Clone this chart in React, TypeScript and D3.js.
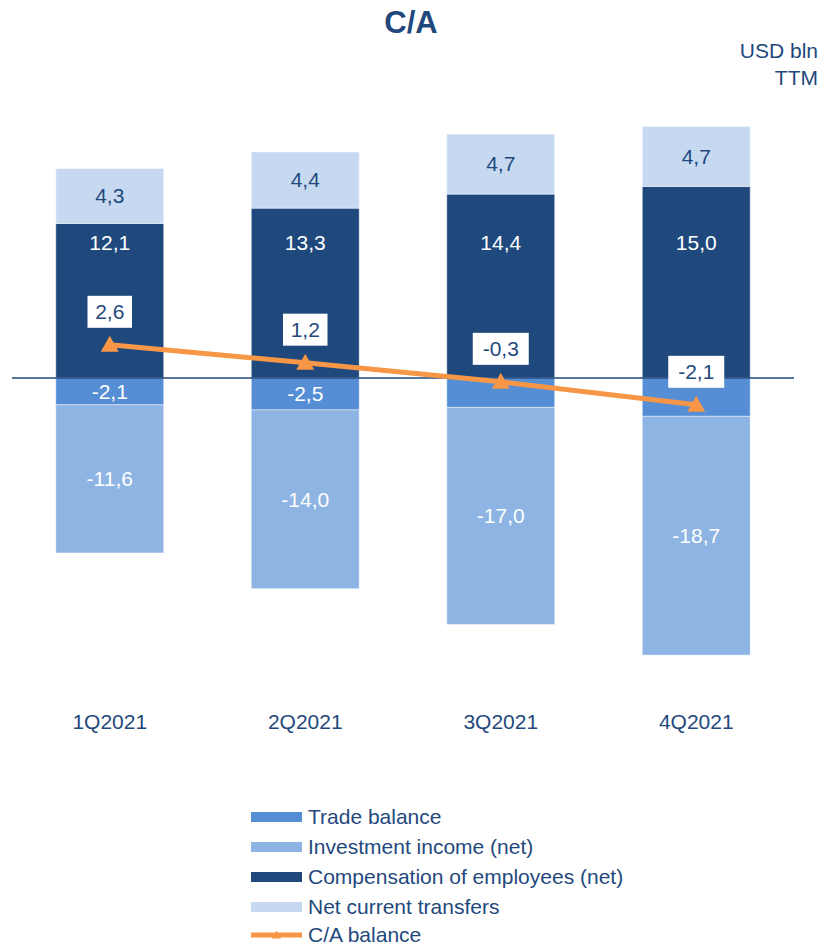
import React from "react";
import * as d3 from "d3";

const categories = ["1Q2021", "2Q2021", "3Q2021", "4Q2021"];
const tradeBalance = [-2.1, -2.5, -2.3, -3.0];
const investmentIncome = [-11.6, -14.0, -17.0, -18.7];
const compensation = [12.1, 13.3, 14.4, 15.0];
const currentTransfers = [4.3, 4.4, 4.7, 4.7];
const caBalance = [2.6, 1.2, -0.3, -2.1];
const tradeLabelShown = [true, true, false, false];

const C_TRADE = "#558ED5";
const C_INV = "#8EB4E3";
const C_COMP = "#1F497D";
const C_TRANS = "#C6D9F1";
const C_CA = "#F79646";
const C_TEXT = "#1F497D";
const FONT = "'Liberation Sans', Arial, sans-serif";

const fmt = (v: number) => v.toFixed(1).replace(".", ",");

export default function App() {
  const W = 822, H = 946;
  const zeroY = 378, ppu = 12.77;
  const y = d3.scaleLinear().domain([-22, 21]).range([zeroY + 22 * ppu, zeroY - 21 * ppu]);
  const x = d3.scaleBand<string>().domain(categories).range([12, 794]).paddingInner(0.448).paddingOuter(0.224);
  const bw = x.bandwidth();

  type Seg = { cat: string; y0: number; y1: number; color: string; label: string | null; labelColor: string; labelY: number };
  const segs: Seg[] = [];
  categories.forEach((c, i) => {
    const comp = compensation[i], tr = currentTransfers[i], td = tradeBalance[i], inv = investmentIncome[i];
    segs.push({ cat: c, y0: 0, y1: comp, color: C_COMP, label: fmt(comp), labelColor: "#fff", labelY: y(10.6) });
    segs.push({ cat: c, y0: comp, y1: comp + tr, color: C_TRANS, label: fmt(tr), labelColor: C_TEXT, labelY: y(comp + tr / 2) });
    segs.push({ cat: c, y0: 0, y1: td, color: C_TRADE, label: tradeLabelShown[i] ? fmt(td) : null, labelColor: "#fff", labelY: y(td / 2) });
    segs.push({ cat: c, y0: td, y1: td + inv, color: C_INV, label: fmt(inv), labelColor: "#fff", labelY: y(td + inv / 2) });
  });

  const cx = (c: string) => (x(c) as number) + bw / 2;
  const linePts: [number, number][] = categories.map((c, i) => [cx(c), y(caBalance[i])]);
  const line = d3.line()(linePts) as string;
  const tri = (px: number, py: number, s = 1) =>
    `M${px},${py - 9 * s} L${px + 9 * s},${py + 7 * s} L${px - 9 * s},${py + 7 * s} Z`;

  const legend = [
    { name: "Trade balance", color: C_TRADE },
    { name: "Investment income (net)", color: C_INV },
    { name: "Compensation of employees (net)", color: C_COMP },
    { name: "Net current transfers", color: C_TRANS },
  ];
  const FS = 21;

  return (
    <svg width={W} height={H} style={{ position: "absolute", left: 0, top: 0, background: "#fff" }} fontFamily={FONT}>
      <text x={411} y={33} textAnchor="middle" fontSize={31} fontWeight="bold" fill={C_TEXT}>C/A</text>
      <text x={818} y={58} textAnchor="end" fontSize={FS} fill={C_TEXT}>USD bln</text>
      <text x={818} y={85} textAnchor="end" fontSize={FS} fill={C_TEXT}>TTM</text>

      {segs.map((s, i) => (
        <rect key={i} x={x(s.cat)} width={bw} y={Math.min(y(s.y0), y(s.y1))} height={Math.abs(y(s.y0) - y(s.y1))}
          fill={s.color} stroke="rgba(255,255,255,0.45)" strokeWidth={1} />
      ))}
      {segs.map((s, i) => s.label ? (
        <text key={"l" + i} x={cx(s.cat)} y={s.labelY} dy="0.35em" textAnchor="middle" fontSize={FS} fill={s.labelColor}>{s.label}</text>
      ) : null)}

      <line x1={12} x2={794} y1={y(0)} y2={y(0)} stroke={C_COMP} strokeWidth={1.5} />

      <path d={line} fill="none" stroke={C_CA} strokeWidth={5} />
      {linePts.map((p, i) => <path key={"m" + i} d={tri(p[0], p[1])} fill={C_CA} />)}

      {categories.map((c, i) => {
        const t = fmt(caBalance[i]);
        const w = t.length * 11.5 + 10;
        const by = y(caBalance[i]) - 33;
        return (
          <g key={"ca" + i}>
            <rect x={cx(c) - w / 2} y={by - 16} width={w} height={32} fill="#fff" />
            <text x={cx(c)} y={by} dy="0.35em" textAnchor="middle" fontSize={FS} fill={C_TEXT}>{t}</text>
          </g>
        );
      })}

      {categories.map((c) => (
        <text key={"x" + c} x={cx(c)} y={722} dy="0.35em" textAnchor="middle" fontSize={FS} fill={C_TEXT}>{c}</text>
      ))}

      {legend.map((l, i) => (
        <g key={"lg" + i} transform={`translate(251, ${817 + i * 30})`}>
          <rect x={0} y={-5} width={51} height={10} fill={l.color} />
          <text x={57} y={0} dy="0.35em" fontSize={FS} fill={C_TEXT}>{l.name}</text>
        </g>
      ))}
      <g transform={`translate(251, ${817 + 4 * 30 - 2})`}>
        <line x1={0} x2={51} y1={0} y2={0} stroke={C_CA} strokeWidth={5} />
        <path d={tri(25.5, 0, 0.5)} fill={C_CA} />
        <text x={57} y={0} dy="0.35em" fontSize={FS} fill={C_TEXT}>C/A balance</text>
      </g>
    </svg>
  );
}
